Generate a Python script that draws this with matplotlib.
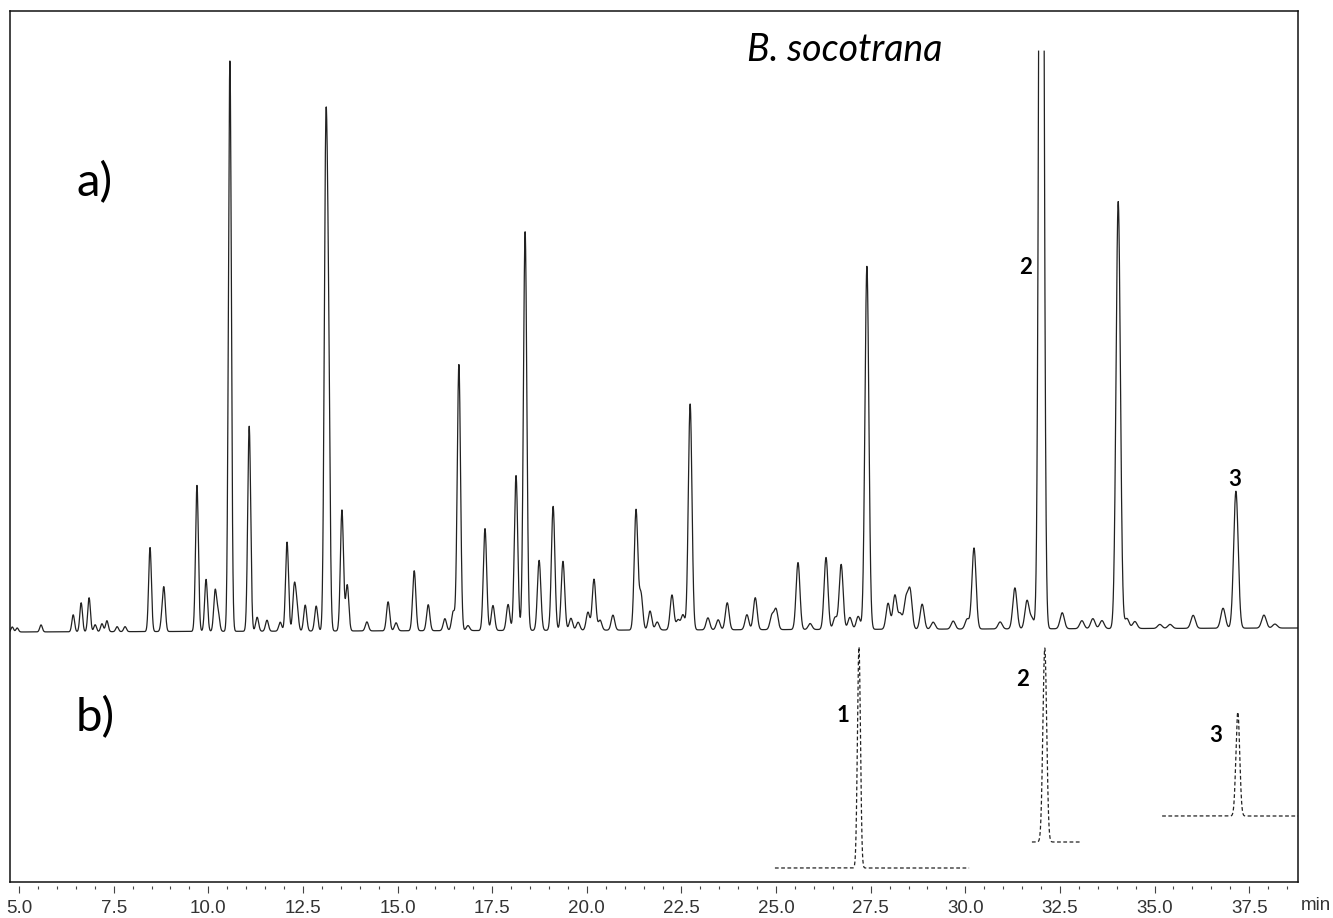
import numpy as np
import matplotlib
matplotlib.use("Agg")
import matplotlib.pyplot as plt

# a) sample chromatogram: peak retention times (min) and heights (signal units)
peak_t = [4.82, 4.95, 5.58, 6.43, 6.64, 6.85, 7.01, 7.19, 7.32, 7.59, 7.80,
          8.46, 8.78, 8.83, 9.70, 9.94, 10.18, 10.26, 10.57, 11.08, 11.29,
          11.55, 11.90, 12.08, 12.27, 12.34, 12.56, 12.85, 13.10, 13.17,
          13.53, 13.67, 14.19, 14.75, 14.96, 15.44, 15.81, 16.25, 16.47,
          16.62, 16.86, 17.31, 17.52, 17.92, 18.13, 18.37, 18.74, 19.11,
          19.37, 19.58, 19.77, 20.03, 20.19, 20.35, 20.69, 21.30, 21.43,
          21.67, 21.86, 22.25, 22.41, 22.54, 22.73, 23.20, 23.47, 23.71,
          24.23, 24.45, 24.89, 25.00, 25.58, 25.90, 26.32, 26.56, 26.72,
          26.95, 27.17, 27.40, 27.96, 28.14, 28.28, 28.43, 28.54, 28.86,
          29.15, 29.68, 30.05, 30.23, 30.92, 31.31, 31.63, 31.76, 32.01,
          32.56, 33.08, 33.37, 33.61, 34.04, 34.27, 34.48, 35.14, 35.41,
          36.02, 36.81, 37.15, 37.89, 38.18]
peak_h = [5, 4, 7, 17, 29, 34, 7, 8, 11, 5, 5,
          84, 13, 39, 146, 52, 40, 18, 571, 205, 14,
          11, 9, 89, 43, 23, 26, 25, 442, 280,
          121, 46, 9, 29, 8, 60, 26, 12, 19,
          266, 5, 102, 25, 26, 155, 399, 70, 124,
          69, 12, 8, 18, 51, 10, 15, 120, 36,
          19, 8, 35, 10, 15, 226, 12, 10, 27,
          15, 32, 14, 20, 67, 6, 72, 12, 65,
          12, 13, 363, 26, 34, 15, 29, 38, 25,
          7, 8, 10, 81, 7, 41, 28, 10, 1400,
          16, 8, 10, 8, 427, 10, 7, 4, 4,
          13, 20, 137, 13, 4]
base_t = [4.76, 38.79]
base_y = [250, 254]
clip_level = 857

# b) standards (dashed traces)
std_labels = ["1", "2", "3"]
std_t = [27.19, 32.1, 37.2]
std_h = [221, 194, 104]
std_base = [14, 40, 66]
std_start = [24.97, 31.76, 35.2]
std_end = [30.1, 33.03, 38.79]
std_sigma = [0.04, 0.05, 0.05]

xticks = [5.0, 7.5, 10.0, 12.5, 15.0, 17.5, 20.0, 22.5, 25.0, 27.5, 30.0, 32.5, 35.0, 37.5]
tick_font = ["Liberation Sans Narrow", "Liberation Sans", "DejaVu Sans"]

fig = plt.figure(figsize=(13.33, 9.18), dpi=100)
ax = fig.add_axes([10/1333, 36/918, 1288/1333, 871/918])

# build trace a)
t = np.arange(4.76, 38.79, 0.004)
y = np.interp(t, base_t, base_y).astype(float)
for pt, ph in zip(peak_t, peak_h):
    s = 0.03 + 0.0008 * pt
    y = y + ph * np.exp(-0.5 * ((t - pt) / s) ** 2)
y[y > clip_level] = np.nan
ax.plot(t, y, color="#222222", lw=0.9)

# build traces b)
for i in range(len(std_t)):
    tb = np.arange(std_start[i], std_end[i], 0.003)
    yb = std_base[i] + std_h[i] * np.exp(-0.5 * ((tb - std_t[i]) / std_sigma[i]) ** 2)
    ax.plot(tb, yb, color="#222222", lw=0.9, linestyle=(0, (3, 2)))

ax.set_xlim(4.76, 38.79)
ax.set_ylim(0, 871)
ax.set_yticks([])
ax.tick_params(axis="x", bottom=False, labelbottom=False)
for sp in ax.spines.values():
    sp.set_linewidth(1.1)
    sp.set_color("#111111")

sec = ax.secondary_xaxis(-0.005)
sec.spines["bottom"].set_visible(False)
sec.set_xticks(xticks)
sec.set_xticklabels(["%.1f" % v for v in xticks])
sec.set_xticks(np.arange(5.5, 38.6, 0.5), minor=True)
sec.tick_params(axis="x", which="major", length=5, width=0.8, color="#444444",
                pad=5, labelsize=13.5, labelcolor="#333333")
sec.tick_params(axis="x", which="minor", length=2, width=0.8, color="#444444")
for lab in sec.get_xticklabels():
    lab.set_family(tick_font)
fig.text(1301/1333, 1 - 906/918, "min", ha="left", va="center", fontsize=13.5,
         color="#333333", family=tick_font)

# text
ax.text(7.0, 699, "a)", fontsize=34, family="Lato", ha="center", va="center")
ax.text(7.0, 164, "b)", fontsize=34, family="Lato", ha="center", va="center")
ax.text(26.82, 832, "B. socotrana", fontsize=27, family="Lato", style="italic",
        ha="center", va="center")
ax.text(31.58, 614, "2", fontsize=16, family="Lato", weight="bold", ha="center", va="center")
ax.text(37.13, 402, "3", fontsize=16, family="Lato", weight="bold", ha="center", va="center")
lab_x = [26.77, 31.5, 36.62]
lab_y = [166, 202, 147]
for i in range(3):
    ax.text(lab_x[i], lab_y[i], std_labels[i], fontsize=16, family="Lato",
            weight="bold", ha="center", va="center")

fig.savefig("out.png", dpi=100)
